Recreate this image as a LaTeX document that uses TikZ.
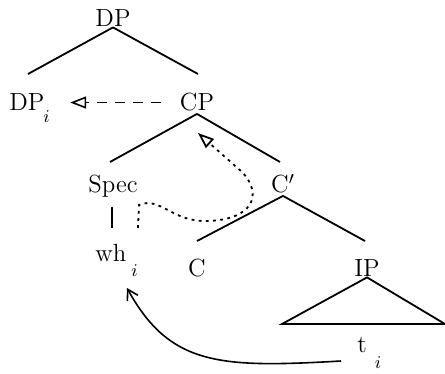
\documentclass[tikz,border=0pt]{standalone}
\usetikzlibrary{arrows.meta}
\newcommand\idx[1]{\raisebox{-#1}{$\scriptstyle i$}}

\begin{document}
\begin{tikzpicture}[x=0.5pt,y=-0.5pt,font=\fontsize{12.4}{15}\selectfont,
  lab/.style={inner sep=0pt,anchor=base},
  branch/.style={line width=.9pt},
  move/.style={line width=.8pt,-{Triangle[open,length=8pt,width=6pt]}}]
  \useasboundingbox (0,0) rectangle (445,374);
  % labels
  \node[lab] (dp) at (113,27) {DP};
  \node[lab,anchor=base west] (dpi) at (9,111) {DP\kern-.5pt\idx{6pt}};
  \node[lab] (cp) at (197,111) {CP};
  \node[lab] (spec) at (113,192) {Spec};
  \node[lab] (cbar) at (283,193) {C$'$};
  \node[lab,anchor=base west] (wh) at (95,262) {wh\kern2.5pt\idx{7.5pt}};
  \node[lab] (c) at (197,277) {C};
  \node[lab] (ip) at (367,277) {IP};
  \node[lab,anchor=base west] (t) at (357,352) {t\kern4pt\idx{8pt}};
  \coordinate (ipl) at (282,324);
  \coordinate (ipr) at (445,324);
  \coordinate (gap) at (198,133);
  % tree
  \draw[branch] (dp.south) -- (28,74);
  \draw[branch] (dp.south) -- (198,74);
  \draw[branch] ([yshift=-1pt]cp.south) -- (110,162);
  \draw[branch] ([yshift=-1pt]cp.south) -- (280,162);
  \draw[branch] ([yshift=-1pt]cbar.south) -- (197,241);
  \draw[branch] ([yshift=-1pt]cbar.south) -- (365,241);
  \draw[branch] (ip.south) -- (ipl) -- (ipr) -- cycle;
  \draw[branch] (112,207) -- (112,228);
  % movement
  \draw[move,dash pattern=on 5pt off 4pt,shorten <=9.5pt,shorten >=10pt]
    (cp.west) -- (dpi.east |- cp.west);
  \draw[move,line width=.9pt,dash pattern=on 1.4pt off 2.2pt]
    (138,228) -- (139,205) .. controls (160,196) and (172,222) .. (207,221)
    .. controls (252,220) and (264,195) .. (242,172) -- (gap);
  \draw[line width=.8pt,-{Straight Barb[length=5pt,width=6pt]}]
    (341,361) .. controls (220,368) and (170,366) .. (127,288);
\end{tikzpicture}
\end{document}
